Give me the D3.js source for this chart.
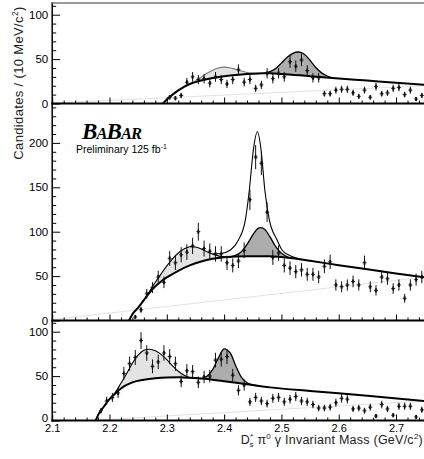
<!DOCTYPE html>
<html>
<head>
<meta charset="utf-8">
<script src="https://cdn.jsdelivr.net/npm/d3@7"></script>
<style>
  body { margin: 0; background: #fff; }
  svg { display: block; font-family: "Liberation Sans", Arial, sans-serif; }
</style>
</head>
<body>
<script>
// 10 MeV bins, counts
const topMass = [2.305, 2.315, 2.325, 2.335, 2.345, 2.355, 2.365, 2.375, 2.385, 2.395,
  2.405, 2.415, 2.425, 2.435, 2.445, 2.455, 2.465, 2.475, 2.485, 2.495,
  2.505, 2.515, 2.525, 2.535, 2.545, 2.555, 2.565, 2.575, 2.585, 2.595,
  2.605, 2.615, 2.625, 2.635, 2.645, 2.655, 2.665, 2.675, 2.685, 2.695,
  2.705, 2.715, 2.725, 2.735, 2.745]
const topCounts = [7, 6, 9, 24, 30, 27, 28, 23, 30, 27,
  22, 27, 38, 24, 27, 17, 21, 34, 28, 34,
  30, 47, 42, 49, 37, 29, 29, 11, 11, 15,
  16, 16, 12, 8, 15, 7, 19, 11, 12, 17,
  18, 10, 15, 5, 9]

const midMass = [2.245, 2.255, 2.265, 2.275, 2.285, 2.295, 2.305, 2.315, 2.325, 2.335,
  2.345, 2.355, 2.365, 2.375, 2.385, 2.395, 2.405, 2.415, 2.425, 2.435,
  2.445, 2.455, 2.465, 2.475, 2.485, 2.495, 2.505, 2.515, 2.525, 2.535,
  2.545, 2.555, 2.565, 2.575, 2.585, 2.595, 2.605, 2.615, 2.625, 2.635,
  2.645, 2.655, 2.665, 2.675, 2.685, 2.695, 2.705, 2.715, 2.725, 2.735,
  2.745]
const midCounts = [4, 12, 30, 37, 49, 43, 70, 65, 74, 77,
  84, 100, 81, 78, 75, 75, 65, 62, 67, 79,
  136, 184, 177, 122, 71, 76, 62, 59, 55, 57,
  52, 52, 49, 61, 66, 40, 38, 40, 44, 40,
  65, 38, 34, 49, 47, 36, 40, 25, 40, 46,
  49]

const botMass = [2.185, 2.195, 2.205, 2.215, 2.225, 2.235, 2.245, 2.255, 2.265, 2.275,
  2.285, 2.295, 2.305, 2.315, 2.325, 2.335, 2.345, 2.355, 2.365, 2.375,
  2.385, 2.395, 2.405, 2.415, 2.425, 2.435, 2.445, 2.455, 2.465, 2.475,
  2.485, 2.495, 2.505, 2.515, 2.525, 2.535, 2.545, 2.555, 2.565, 2.575,
  2.585, 2.595, 2.605, 2.615, 2.625, 2.635, 2.645, 2.655, 2.665, 2.675,
  2.685, 2.695, 2.705, 2.715, 2.725, 2.735, 2.745]
const botCounts = [11, 22, 26, 31, 53, 64, 71, 90, 76, 61,
  66, 76, 72, 64, 44, 56, 55, 43, 49, 50,
  68, 69, 72, 51, 34, 40, 21, 26, 22, 19,
  25, 26, 21, 24, 27, 22, 21, 18, 14, 14,
  15, 20, 25, 24, 13, 14, 11, 15, 5, 18,
  13, 6, 16, 16, 16, 4, 12]

// fit curves, [mass, candidates]
const topBackground = [[2.293, 0], [2.30, 4.5], [2.31, 10], [2.32, 14.8], [2.33, 18.8], [2.34, 22],
  [2.36, 25.8], [2.38, 28.6], [2.40, 30.6], [2.42, 32.2], [2.44, 33.3], [2.46, 33.9], [2.48, 34],
  [2.50, 33.3], [2.55, 30.7], [2.60, 28.2], [2.65, 25.8], [2.70, 23.3], [2.75, 21]]
const topLightPeak = [[2.34, 22], [2.35, 25.5], [2.36, 29.5], [2.37, 34], [2.38, 37.5], [2.39, 40],
  [2.40, 41], [2.41, 40.3], [2.42, 38.5], [2.43, 36.5], [2.44, 35], [2.45, 34.2], [2.46, 33.9]]
const topDarkPeak = [[2.47, 34], [2.48, 35.8], [2.49, 39.5], [2.50, 45.5], [2.51, 52], [2.52, 56.5],
  [2.53, 58], [2.54, 55.5], [2.55, 48.5], [2.56, 40.5], [2.57, 34.5], [2.58, 31], [2.59, 28.8]]
const topFaint = [[2.1, 0.5], [2.75, 20]]

const midBackground = [[2.234, 0], [2.24, 7], [2.25, 14.5], [2.26, 23], [2.27, 31.5], [2.28, 38.5],
  [2.29, 44], [2.30, 48.5], [2.32, 56], [2.34, 62], [2.36, 66.5], [2.38, 69.5], [2.40, 71.2],
  [2.44, 72.4], [2.48, 72.3], [2.52, 70], [2.55, 67.2], [2.60, 62.3], [2.65, 57.6], [2.70, 53], [2.75, 48.5]]
const midLightPeak = [[2.26, 23], [2.27, 33], [2.28, 43], [2.29, 52.5], [2.30, 61.5], [2.31, 69.5],
  [2.32, 76], [2.33, 80.5], [2.34, 83], [2.35, 82.8], [2.36, 80.5], [2.37, 77.5], [2.38, 74.8],
  [2.39, 72.8], [2.40, 71.6], [2.41, 71.5]]
const midDarkPeak = [[2.41, 71.5], [2.42, 73.3], [2.43, 77.5], [2.44, 85.7], [2.45, 96.3], [2.46, 104.1],
  [2.47, 103.1], [2.48, 94.2], [2.49, 83.2], [2.50, 75.6], [2.51, 71.8], [2.52, 70]]
const midNarrowPeak = [[2.38, 74.8], [2.395, 75.5], [2.411, 79.4], [2.425, 90.7], [2.437, 113],
  [2.444, 147], [2.451, 192], [2.458, 212.5], [2.4645, 192], [2.471, 147], [2.479, 113],
  [2.4925, 90.7], [2.501, 79.4], [2.512, 74], [2.525, 70.5], [2.535, 68.8]]
const midFaint = [[2.1, 1], [2.75, 49]]

const botBackground = [[2.176, 0], [2.18, 6], [2.19, 15.5], [2.20, 24], [2.21, 30.5], [2.22, 36],
  [2.23, 40], [2.24, 43], [2.26, 46], [2.28, 47.6], [2.30, 48.4], [2.32, 48.6], [2.34, 48.1],
  [2.36, 47.2], [2.38, 46], [2.40, 44.3], [2.44, 40.7], [2.48, 37.3], [2.55, 33.2], [2.65, 28], [2.75, 22]]
const botLightPeak = [[2.20, 24], [2.21, 31.5], [2.22, 42], [2.23, 53], [2.24, 64.5], [2.25, 73.5],
  [2.26, 79], [2.27, 80.3], [2.28, 78.5], [2.29, 74.5], [2.30, 68.5], [2.31, 61.5], [2.32, 55.5],
  [2.33, 51], [2.34, 48.5], [2.35, 47.6], [2.36, 47.2]]
const botDarkPeak = [[2.36, 47.2], [2.37, 49.9], [2.38, 57.4], [2.39, 70.6], [2.40, 80.6], [2.41, 76.6],
  [2.42, 62], [2.43, 48.9], [2.44, 42.5], [2.45, 40.1], [2.46, 38.9]]
const botFaint = [[2.176, 0.5], [2.75, 22]]

const topYTicks = [0, 50, 100]
const midYTicks = [0, 50, 100, 150, 200]
const botYTicks = [0, 50, 100]
const xTickValues = [2.1, 2.2, 2.3, 2.4, 2.5, 2.6, 2.7]
const xTickLabels = ["2.1", "2.2", "2.3", "2.4", "2.5", "2.6", "2.7"]

const w = 424
const h = 459
const left = 52.2
const right = 424.7
const pxPerUnit = 0.888

const svg = d3.select("body").append("svg")
  .attr("width", w)
  .attr("height", h)

const x = d3.scaleLinear().domain([2.1, 2.75]).range([left, right])

const panels = [
  { mass: topMass, counts: topCounts, y0: 103.5, yTop: 3, yTicks: topYTicks,
    bg: topBackground, light: topLightPeak, dark: topDarkPeak, faint: topFaint, lightStroke: "#777" },
  { mass: midMass, counts: midCounts, y0: 320.5, yTop: 104, yTicks: midYTicks,
    bg: midBackground, light: midLightPeak, dark: midDarkPeak, faint: midFaint, narrow: midNarrowPeak, lightStroke: "#000" },
  { mass: botMass, counts: botCounts, y0: 420.5, yTop: 320.5, yTicks: botYTicks,
    bg: botBackground, light: botLightPeak, dark: botDarkPeak, faint: botFaint, lightStroke: "#000", labels: true }
]

panels.forEach((p, idx) => {
  const y = d3.scaleLinear().domain([0, (p.y0 - p.yTop) / pxPerUnit]).range([p.y0, p.yTop])

  svg.append("clipPath").attr("id", "clip" + idx)
    .append("rect")
    .attr("x", left).attr("y", p.yTop)
    .attr("width", right - left).attr("height", p.y0 - p.yTop)

  const g = svg.append("g").attr("clip-path", "url(#clip" + idx + ")")

  const peakArea = d3.area().curve(d3.curveCatmullRom)
    .x(d => x(d[0])).y0(y(0)).y1(d => y(d[1]))
  const bgArea = d3.area().curve(d3.curveMonotoneX)
    .x(d => x(d[0])).y0(y(0)).y1(d => y(d[1]))
  const peakLine = d3.line().curve(d3.curveCatmullRom).x(d => x(d[0])).y(d => y(d[1]))
  const smoothLine = d3.line().curve(d3.curveMonotoneX).x(d => x(d[0])).y(d => y(d[1]))

  // shaded signal regions, then blank out everything under the background
  g.append("path").attr("d", peakArea(p.light)).attr("fill", "#e3e3e3")
  g.append("path").attr("d", peakArea(p.dark)).attr("fill", "#adadad")
  g.append("path").attr("d", bgArea(p.bg)).attr("fill", "#fff")

  g.append("path").attr("d", smoothLine(p.faint))
    .attr("fill", "none").attr("stroke", "#e2e2e2").attr("stroke-width", 1)

  g.append("path").attr("d", peakLine(p.light))
    .attr("fill", "none").attr("stroke", p.lightStroke).attr("stroke-width", 1.1)
  g.append("path").attr("d", peakLine(p.dark))
    .attr("fill", "none").attr("stroke", "#000").attr("stroke-width", 1.3)
  if (p.narrow) {
    g.append("path").attr("d", smoothLine(p.narrow))
      .attr("fill", "none").attr("stroke", "#000").attr("stroke-width", 1.1)
  }
  g.append("path").attr("d", smoothLine(p.bg))
    .attr("fill", "none").attr("stroke", "#000").attr("stroke-width", 2)

  // data points with sqrt(N) error bars
  const pts = g.selectAll(".pt" + idx)
    .data(p.counts.map((c, i) => ({ m: p.mass[i], c: c })))
    .enter().append("g")
    .attr("transform", d => "translate(" + x(d.m) + ",0)")
  pts.append("line")
    .attr("y1", d => y(d.c - Math.sqrt(d.c)))
    .attr("y2", d => y(d.c + Math.sqrt(d.c)))
    .attr("stroke", "#111").attr("stroke-width", 1)
  pts.append("rect")
    .attr("x", -0.9).attr("y", d => y(d.c) - 2)
    .attr("width", 1.8).attr("height", 4)
    .attr("fill", "#111")
  pts.append("line")
    .attr("x1", -2).attr("x2", 2)
    .attr("y1", d => y(d.c)).attr("y2", d => y(d.c))
    .attr("stroke", "#111").attr("stroke-width", 0.9)

  // y axis ticks point into the frame
  const top = y.domain()[1]
  const yMinor = d3.range(10, top, 10).filter(v => v % 50 != 0)
  svg.append("g").attr("transform", "translate(" + left + ",0)")
    .call(d3.axisLeft(y).tickValues(yMinor).tickSize(-4).tickFormat(""))
    .call(s => s.select(".domain").remove())
  const yMajor = svg.append("g").attr("transform", "translate(" + left + ",0)")
    .call(d3.axisLeft(y).tickValues(p.yTicks).tickSize(-8).tickPadding(4))
    .call(s => s.select(".domain").remove())
  yMajor.selectAll("text").style("font-size", "11.5px").attr("fill", "#000")
    .style("font-family", "'Liberation Sans', Arial, sans-serif")
  if (p.labels) {
    // lift the lowest "0" a little so it clears the "2.1" below it
    yMajor.selectAll("text").filter(d => d == 0).attr("y", -2.5)
  }

  // x ticks along the bottom of each panel, pointing up
  const xMinor = d3.range(2.12, 2.75, 0.02).filter(v => Math.abs(v * 10 - Math.round(v * 10)) > 0.01)
  svg.append("g").attr("transform", "translate(0," + p.y0 + ")")
    .call(d3.axisBottom(x).tickValues(xMinor).tickSize(-3).tickFormat(""))
    .call(s => s.select(".domain").remove())
  const xMajor = svg.append("g").attr("transform", "translate(0," + p.y0 + ")")
    .call(d3.axisBottom(x).tickValues(xTickValues).tickSize(-6).tickPadding(3.5)
      .tickFormat((d, i) => p.labels ? xTickLabels[i] : ""))
    .call(s => s.select(".domain").remove())
  xMajor.selectAll("text").style("font-size", "11px").attr("fill", "#000")
    .style("font-family", "'Liberation Sans', Arial, sans-serif")

  svg.append("line")
    .attr("x1", left - 1).attr("x2", w)
    .attr("y1", p.y0).attr("y2", p.y0)
    .attr("stroke", "#000").attr("stroke-width", 2)
})

// frame
svg.append("line").attr("x1", left).attr("x2", left).attr("y1", 2.2).attr("y2", 421.5)
  .attr("stroke", "#000").attr("stroke-width", 1.5)
svg.append("line").attr("x1", left).attr("x2", w).attr("y1", 3).attr("y2", 3)
  .attr("stroke", "#777").attr("stroke-width", 1.6)

// axis titles
const yt = svg.append("text")
  .attr("transform", "translate(22.5,83) rotate(-90)")
  .attr("text-anchor", "middle")
  .style("font-size", "13px")
  .style("letter-spacing", "0.35px")
  .attr("fill", "#222")
yt.append("tspan").text("Candidates / (10 MeV/c")
yt.append("tspan").attr("dy", -5).style("font-size", "8.5px").text("2")
yt.append("tspan").attr("dy", 5).text(")")

const xt = svg.append("text")
  .attr("x", 423).attr("y", 444)
  .attr("text-anchor", "end")
  .style("font-size", "12.5px")
  .style("letter-spacing", "0.25px")
  .attr("fill", "#222")
xt.append("tspan").text("D")
xt.append("tspan").attr("dy", -5).style("font-size", "8px").text("*")
xt.append("tspan").attr("dx", -4).attr("dy", 8).style("font-size", "8px").text("s")
xt.append("tspan").attr("dy", -3).text(" \u03c0")
xt.append("tspan").attr("dy", -5).style("font-size", "8px").text("0")
xt.append("tspan").attr("dy", 5).text(" \u03b3 Invariant Mass (GeV/c")
xt.append("tspan").attr("dy", -5).style("font-size", "8px").text("2")
xt.append("tspan").attr("dy", 5).text(")")

// BaBar logo
const logo = svg.append("text")
  .attr("x", 82).attr("y", 139)
  .style("font-family", "'Liberation Serif', 'Times New Roman', serif")
  .style("font-weight", "bold")
  .style("font-style", "italic")
  .style("letter-spacing", "-0.9px")
  .attr("fill", "#000")
logo.append("tspan").style("font-size", "23px").text("B")
logo.append("tspan").style("font-size", "16.5px").text("A")
logo.append("tspan").style("font-size", "23px").text("B")
logo.append("tspan").style("font-size", "16.5px").text("AR")

const prelim = svg.append("text")
  .attr("x", 76).attr("y", 152.5)
  .style("font-size", "10.5px")
  .attr("fill", "#000")
prelim.append("tspan").text("Preliminary 125 fb")
prelim.append("tspan").attr("dy", -4).style("font-size", "7px").text("-1")
</script>
</body>
</html>
